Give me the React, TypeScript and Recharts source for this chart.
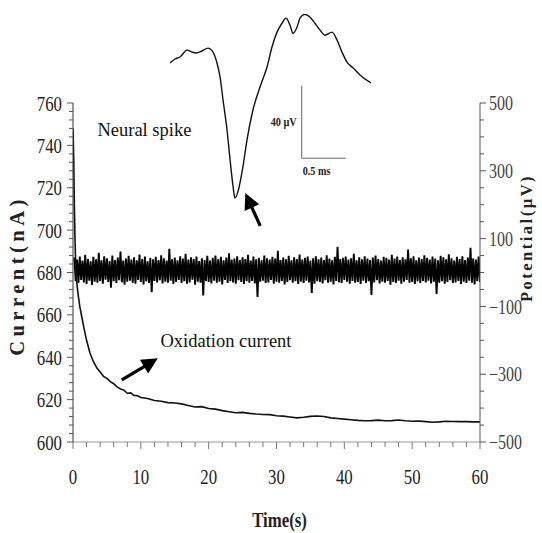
import React from 'react';
import { ComposedChart, LineChart, Line, XAxis, YAxis, ReferenceLine, ReferenceDot, Label } from 'recharts';

// Oxidation current (nA) vs time (s)
const oxTime = [0, 0.1, 0.2, 0.3, 0.4, 0.5, 0.7, 1.0, 1.3, 1.6, 2.0, 2.5, 3.0, 3.5, 4.0, 4.5, 5.0, 5.5, 6.0, 6.5, 7.0, 7.5, 8.0, 8.5, 9.0, 9.5, 10, 11, 12, 13, 14, 15, 16, 17, 18, 19, 20, 21, 22, 23, 24, 25, 26, 27, 28, 29, 30, 31, 32, 33, 34, 35, 36, 37, 38, 39, 40, 41, 42, 43, 44, 45, 46, 47, 48, 49, 50, 51, 52, 53, 54, 55, 56, 57, 58, 59, 60];
const oxCurrent = [748, 735, 712, 695, 684, 677, 671, 664, 659, 654, 648, 642, 638, 635, 633, 631, 630, 628.5, 627.5, 626, 625, 624.5, 623, 623.2, 622, 621.8, 621, 620.5, 619.6, 619.2, 618.6, 618.4, 618, 617.2, 616.5, 616.7, 615.8, 615.5, 614.8, 614.3, 613.8, 614.0, 613.5, 613.2, 613.0, 612.9, 612.4, 612.2, 611.8, 611.4, 611.7, 612.1, 612.3, 612.0, 611.4, 611.1, 610.8, 610.5, 610.2, 610.0, 610.1, 610.3, 610.0, 610.1, 610.4, 610.0, 609.8, 609.9, 609.6, 609.3, 609.5, 609.8, 609.7, 609.6, 609.6, 609.5, 609.5];

// Neural recording potential (µV), sampled every 0.2 s from 0.2 s
const noiseStart = 0.2;
const noiseStep = 0.2;
const noiseValues = [
  44, -26, 38, -31, 47, -22, 35, -29, 52, -34, 40, -24, 33, -37, 46, -27, 39, -30, 58, -25,
  36, -33, 48, -21, 42, -28, 34, -45, 50, -26, 37, -31, 44, -23, 62, -29, 35, -36, 41, -27,
  49, -24, 38, -30, 45, -33, 36, -22, 53, -28, 40, -35, 47, -26, 33, -31, 43, -58, 39, -25,
  46, -29, 37, -23, 51, -32, 42, -27, 35, -30, 70, -24, 39, -34, 44, -28, 36, -22, 48, -31,
  41, -26, 55, -33, 38, -29, 45, -21, 40, -36, 47, -27, 34, -30, 42, -68, 37, -25, 49, -28,
  35, -32, 43, -24, 50, -30, 39, -27, 46, -35, 36, -22, 44, -31, 57, -26, 38, -29, 41, -33,
  48, -23, 37, -28, 45, -34, 40, -26, 52, -30, 35, -25, 47, -32, 39, -72, 43, -27, 36, -24,
  50, -31, 42, -29, 38, -22, 46, -33, 41, -27, 64, -30, 37, -25, 44, -35, 39, -28, 49, -23,
  36, -30, 45, -26, 40, -34, 53, -27, 38, -31, 43, -24, 47, -29, 35, -60, 42, -33, 48, -26,
  39, -28, 44, -32, 37, -23, 51, -30, 41, -27, 36, -35, 46, -25, 76, -29, 40, -31, 43, -22,
  47, -27, 38, -33, 42, -25, 55, -30, 36, -28, 45, -34, 39, -24, 48, -31, 41, -26, 37, -66,
  44, -29, 50, -23, 40, -32, 35, -27, 46, -30, 43, -25, 38, -36, 52, -28, 41, -31, 47, -24,
  37, -33, 45, -27, 39, -22, 68, -30, 42, -28, 48, -34, 36, -26, 44, -31, 40, -25, 51, -29,
  43, -24, 38, -32, 47, -27, 41, -63, 36, -30, 49, -26, 45, -33, 39, -28, 54, -23, 42, -31,
  35, -29, 46, -25, 40, -34, 48, -27, 37, -31, 44, -24, 73, -30, 41, -35, 38, -26, 47, -28,
];

// Inset: single neural spike waveform (time in ms, potential in µV)
const spikeTime = [0, 0.056, 0.111, 0.189, 0.244, 0.289, 0.356, 0.422, 0.478, 0.522, 0.556, 0.589, 0.633, 0.667, 0.7, 0.722, 0.756, 0.811, 0.856, 0.922, 1.0, 1.078, 1.133, 1.189, 1.244, 1.289, 1.333, 1.367, 1.411, 1.444, 1.5, 1.556, 1.611, 1.667, 1.722, 1.8, 1.856, 1.911, 1.967, 2.033, 2.111, 2.233];
const spikeVolt = [0, 2.2, 3.3, 7.1, 6.0, 5.5, 6.6, 8.2, 6.0, 0, -7.7, -20.3, -36.7, -53.2, -67.9, -74.5, -70.7, -57.0, -42.2, -25.8, -13.2, -2.2, 8.8, 17.0, 21.9, 24.7, 20.8, 16.4, 19.7, 24.7, 26.8, 25.2, 21.9, 18.1, 15.3, 17.0, 12.6, 6.0, 0.5, -2.7, -6.6, -11.0];

// Axis ticks
const leftMajor = [600, 620, 640, 660, 680, 700, 720, 740, 760];
const rightMajor = [-500, -300, -100, 100, 300, 500];
const bottomMajor = [0, 10, 20, 30, 40, 50, 60];
const leftTicks = Array.from({ length: 41 }, (_, i) => 600 + i * 4);
const rightTicks = Array.from({ length: 21 }, (_, i) => -500 + i * 50);
const bottomTicks = Array.from({ length: 31 }, (_, i) => i * 2);

const oxData = oxTime.map((t, i) => ({ t, c: oxCurrent[i] }));
const noiseData = noiseValues.map((v, i) => ({ t: +(noiseStart + i * noiseStep).toFixed(2), v }));
const spikeData = spikeTime.map((t, i) => ({ t, v: spikeVolt[i] }));

const numFont = '"Liberation Serif", "DejaVu Serif", serif';

const LeftTick = (props: any) => {
  const { x, y, payload } = props;
  const v = payload.value;
  const major = leftMajor.includes(v);
  return (
    <g>
      <line x1={x - (major ? 6 : 4)} x2={x} y1={y} y2={y} stroke="#555" strokeWidth={1} />
      {major && (
        <text transform={`translate(${x - 11} ${y}) scale(0.8 1)`} textAnchor="end" dy="0.36em" fontFamily={numFont} fontSize={21} fill="#222">
          {v}
        </text>
      )}
    </g>
  );
};

const RightTick = (props: any) => {
  const { x, y, payload } = props;
  const v = payload.value;
  const major = rightMajor.includes(v);
  return (
    <g>
      <line x1={x} x2={x + (major ? 6 : 4)} y1={y} y2={y} stroke="#555" strokeWidth={1} />
      {major && (
        <text transform={`translate(${x + 9} ${y}) scale(0.8 1)`} textAnchor="start" dy="0.36em" fontFamily={numFont} fontSize={20} fill="#444">
          {String(v).replace('-', '\u2212')}
        </text>
      )}
    </g>
  );
};

const BottomTick = (props: any) => {
  const { x, y, payload } = props;
  const v = payload.value;
  const major = bottomMajor.includes(v);
  return (
    <g>
      <line x1={x} x2={x} y1={y} y2={y + (major ? 7 : 5)} stroke="#777" strokeWidth={1} />
      {major && (
        <text transform={`translate(${x} ${y + 34}) scale(0.8 1)`} textAnchor="middle" dy="0.36em" fontFamily={numFont} fontSize={21} fill="#222">
          {v}
        </text>
      )}
    </g>
  );
};

const Arrow = (p: any) => {
  const { x1, y1, x2, y2 } = p;
  const dx = x2 - x1;
  const dy = y2 - y1;
  const len = Math.hypot(dx, dy) || 1;
  const ux = dx / len;
  const uy = dy / len;
  const headLen = 16;
  const headW = 8;
  const bx = x2 - ux * headLen;
  const by = y2 - uy * headLen;
  const px = -uy;
  const py = ux;
  return (
    <g>
      <line x1={x1} y1={y1} x2={bx + ux * 2} y2={by + uy * 2} stroke="#000" strokeWidth={3.2} />
      <polygon points={`${x2},${y2} ${bx + px * headW},${by + py * headW} ${bx - px * headW},${by - py * headW}`} fill="#000" />
    </g>
  );
};

const textShape = (txt: string) => (p: any) => (
  <text x={p.cx} y={p.cy} fontFamily={numFont} fontSize={18.5} fill="#111">
    {txt}
  </text>
);

export default function App() {
  return (
    <div style={{ position: 'absolute', left: 0, top: 0, width: 542, height: 533, background: '#fff' }}>
      <ComposedChart width={542} height={533} margin={{ top: 103, right: 0, bottom: 0, left: 0 }}>
        <XAxis
          dataKey="t"
          type="number"
          domain={[0, 60]}
          allowDataOverflow
          ticks={bottomTicks}
          interval={0}
          tick={<BottomTick />}
          tickLine={false}
          tickSize={0}
          tickMargin={0}
          height={91}
          axisLine={{ stroke: '#999' }}
        >
          <Label
            content={(p: any) => {
              const vb = p.viewBox;
              return (
                <text transform={`translate(${vb.x + vb.width / 2 + 3} ${vb.y + 85}) scale(0.8 1)`} textAnchor="middle" fontFamily={numFont} fontWeight="bold" fontSize={21} fill="#222">
                  Time(s)
                </text>
              );
            }}
          />
        </XAxis>
        <YAxis
          yAxisId="left"
          domain={[600, 760]}
          allowDataOverflow
          ticks={leftTicks}
          interval={0}
          tick={<LeftTick />}
          tickLine={false}
          tickSize={0}
          tickMargin={0}
          width={73}
          axisLine={{ stroke: '#333' }}
        >
          <Label
            content={(p: any) => {
              const vb = p.viewBox;
              const cx = vb.x + 24;
              const cy = vb.y + vb.height / 2 + 3;
              return (
                <text transform={`translate(${cx} ${cy}) rotate(-90)`} textAnchor="middle" fontFamily={numFont} fontWeight="bold" fontSize={20.5} letterSpacing={4.5} fill="#222">
                  Current(nA)
                </text>
              );
            }}
          />
        </YAxis>
        <YAxis
          yAxisId="right"
          orientation="right"
          domain={[-500, 500]}
          allowDataOverflow
          ticks={rightTicks}
          interval={0}
          tick={<RightTick />}
          tickLine={false}
          tickSize={0}
          tickMargin={0}
          width={62}
          axisLine={{ stroke: '#555' }}
        >
          <Label
            content={(p: any) => {
              const vb = p.viewBox;
              const cx = vb.x + 52;
              const cy = vb.y + 135;
              return (
                <text transform={`translate(${cx} ${cy}) rotate(-90)`} textAnchor="middle" fontFamily={numFont} fontWeight="bold" fontSize={16.5} letterSpacing={2.5} fill="#222">
                  Potential(µV)
                </text>
              );
            }}
          />
        </YAxis>
        <Line
          yAxisId="right"
          data={noiseData}
          dataKey="v"
          type="linear"
          stroke="#000"
          strokeWidth={1.9}
          dot={false}
          isAnimationActive={false}
        />
        <Line
          yAxisId="left"
          data={oxData}
          dataKey="c"
          type="linear"
          stroke="#111"
          strokeWidth={1.6}
          dot={false}
          isAnimationActive={false}
        />
        <ReferenceLine yAxisId="left" segment={[{ x: 27.6, y: 702 }, { x: 25.4, y: 717.5 }]} shape={Arrow} />
        <ReferenceLine yAxisId="left" segment={[{ x: 7.2, y: 629.3 }, { x: 12.5, y: 639.5 }]} shape={Arrow} />
        <ReferenceDot yAxisId="left" x={3.6} y={744.4} r={0} shape={textShape('Neural spike')} />
        <ReferenceDot yAxisId="left" x={12.9} y={644.8} r={0} shape={textShape('Oxidation current')} />
      </ComposedChart>

      <div style={{ position: 'absolute', left: 170, top: 14, pointerEvents: 'none' }}>
        <LineChart width={201} height={185} data={spikeData} margin={{ top: 0, right: 0, bottom: 0, left: 0 }}>
          <XAxis dataKey="t" type="number" domain={[0, 2.233]} allowDataOverflow hide />
          <YAxis domain={[-75, 27]} allowDataOverflow hide />
          <Line dataKey="v" type="monotone" stroke="#111" strokeWidth={1.4} dot={false} isAnimationActive={false} />
          <ReferenceLine
            segment={[{ x: 1.463, y: -12.5 }, { x: 1.463, y: -52.5 }]}
            stroke="#666"
            strokeWidth={1}
            label={{
              content: (p: any) => {
                const vb = p.viewBox;
                return (
                  <text transform={`translate(${vb.x - 5} ${vb.y + vb.height / 2 + 4}) scale(0.85 1)`} textAnchor="end" fontFamily={numFont} fontWeight="bold" fontSize={12} fill="#222">
                    40 µV
                  </text>
                );
              },
            }}
          />
          <ReferenceLine
            segment={[{ x: 1.463, y: -52.5 }, { x: 1.953, y: -52.5 }]}
            stroke="#666"
            strokeWidth={1}
            label={{
              content: (p: any) => {
                const vb = p.viewBox;
                return (
                  <text transform={`translate(${vb.x + 1} ${vb.y + 17}) scale(0.85 1)`} textAnchor="start" fontFamily={numFont} fontWeight="bold" fontSize={12} fill="#222">
                    0.5 ms
                  </text>
                );
              },
            }}
          />
        </LineChart>
      </div>
    </div>
  );
}
